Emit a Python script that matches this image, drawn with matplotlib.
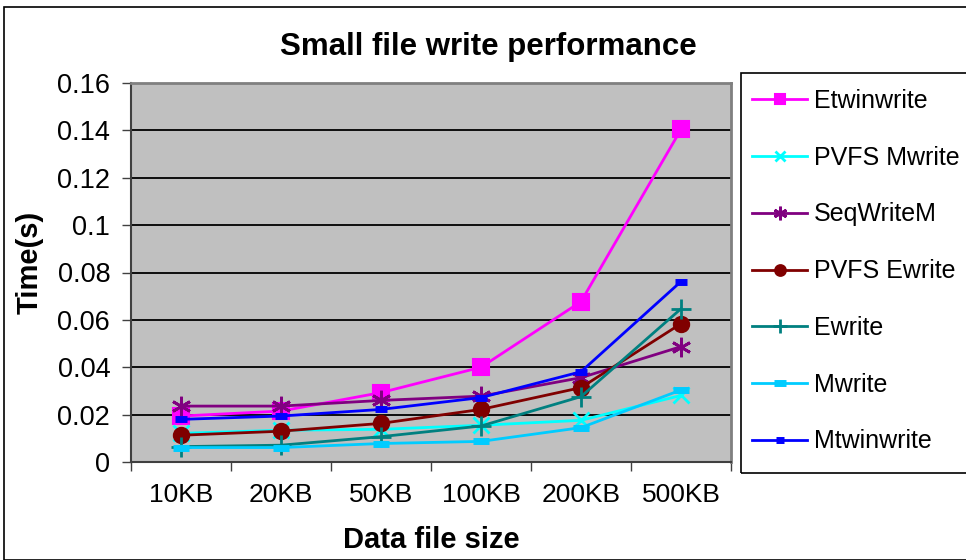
import matplotlib
matplotlib.use("Agg")
import matplotlib.pyplot as plt
from matplotlib.patches import Rectangle
import numpy as np

plt.rcParams['font.family'] = ['Liberation Sans', 'DejaVu Sans']

categories = ["10KB", "20KB", "50KB", "100KB", "200KB", "500KB"]
etwinwrite = [0.0194, 0.0215, 0.0293, 0.0400, 0.0677, 0.1404]
pvfs_mwrite = [0.0121, 0.0134, 0.0138, 0.0155, 0.0176, 0.0281]
seqwritem = [0.0236, 0.0236, 0.0260, 0.0278, 0.0356, 0.0487]
pvfs_ewrite = [0.0113, 0.0130, 0.0163, 0.0222, 0.0314, 0.0584]
ewrite = [0.0065, 0.0071, 0.0107, 0.0152, 0.0276, 0.0647]
mwrite = [0.0061, 0.0061, 0.0078, 0.0087, 0.0145, 0.0304]
mtwinwrite = [0.0180, 0.0194, 0.0222, 0.0272, 0.0381, 0.0762]
y_ticks = [0, 0.02, 0.04, 0.06, 0.08, 0.1, 0.12, 0.14, 0.16]
y_tick_labels = ["0", "0.02", "0.04", "0.06", "0.08", "0.1", "0.12", "0.14", "0.16"]

series = [
    ("Etwinwrite", etwinwrite, "#FF00FF", "s", 11, 1.5),
    ("PVFS Mwrite", pvfs_mwrite, "#00FFFF", "x", 11, 2),
    ("SeqWriteM", seqwritem, "#800080", (6, 2, 0), 14, 2),
    ("PVFS Ewrite", pvfs_ewrite, "#800000", "o", 11, 1.5),
    ("Ewrite", ewrite, "#008080", "+", 14, 2),
    ("Mwrite", mwrite, "#00CCFF", "_", 12, 5),
    ("Mtwinwrite", mtwinwrite, "#0000FF", "_", 8, 5),
]

W, H = 966, 560
fig = plt.figure(figsize=(W / 100, H / 100), dpi=100)
fig.patch.set_facecolor("white")
fig.patches.append(Rectangle((4 / W, 0), 1.2, 1 - 7 / H, transform=fig.transFigure,
                             fill=False, edgecolor="black", linewidth=1.2))

ax = fig.add_axes([131 / W, (H - 462) / H, 600 / W, 379 / H])
ax.set_facecolor("#C0C0C0")
x = np.arange(len(categories))
handles = []
for name, vals, color, marker, ms, mew in series:
    h, = ax.plot(x, vals, color=color, marker=marker, markersize=ms,
                 markeredgewidth=mew, markeredgecolor=color, markerfacecolor=color,
                 linewidth=2, label=name, zorder=3)
    handles.append(h)

ax.set_ylim(0, 0.16)
ax.set_xlim(-0.5, len(categories) - 0.5)
ax.set_yticks(y_ticks)
ax.set_yticklabels(y_tick_labels, fontsize=19.5)
ax.yaxis.grid(True, color="black", linewidth=1.3)
ax.set_axisbelow(True)
ax.set_xticks(np.arange(-0.5, len(categories), 1))
ax.set_xticklabels([])
ax.set_xticks(x, minor=True)
ax.set_xticklabels(categories, minor=True, fontsize=19)
ax.tick_params(axis="x", which="minor", length=0, pad=15)
ax.tick_params(axis="x", which="major", length=6.5, width=1, color="#404040", direction="out")
ax.tick_params(axis="y", length=6.5, width=1, color="#404040", direction="out", pad=8.5)
for s in ax.spines.values():
    s.set_color("#808080")
    s.set_linewidth(2)
ax.spines["left"].set_color("#404040")
ax.spines["bottom"].set_color("#404040")
ax.spines["left"].set_linewidth(1.5)
ax.spines["bottom"].set_linewidth(1.5)

fig.text(488 / W, 1 - 47 / H, "Small file write performance", ha="center", va="center",
         fontsize=22.5, fontweight="bold")
fig.text(431 / W, 1 - 540 / H, "Data file size", ha="center", va="center",
         fontsize=21, fontweight="bold")
fig.text(30 / W, 1 - 262 / H, "Time(s)", ha="center", va="center", rotation=90,
         fontsize=21, fontweight="bold")

# legend frame
fig.patches.append(Rectangle((741 / W, 1 - 473 / H), 1.0, 400 / H, transform=fig.transFigure,
                             fill=False, edgecolor="black", linewidth=1.2, zorder=5))
leg = fig.legend(handles=handles, loc="upper left",
                 bbox_to_anchor=(752 / W, 1 - 89 / H),
                 fontsize=18, frameon=False,
                 handlelength=2.2, handletextpad=0.28, labelspacing=1.31,
                 borderaxespad=0, borderpad=0, markerscale=0.7)

fig.savefig("out.png", dpi=100)
